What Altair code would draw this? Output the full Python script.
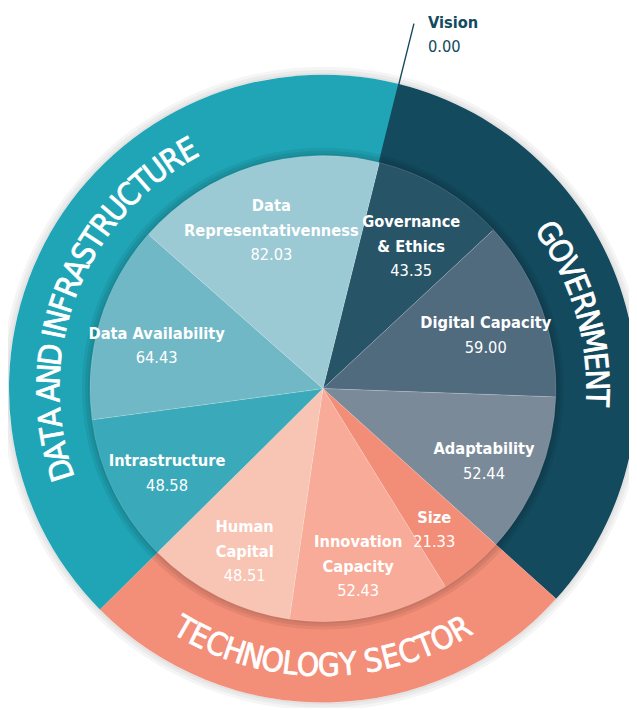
import math
import altair as alt
import pandas as pd

# ---------------- data ----------------
names = ["Vision", "Governance\n& Ethics", "Digital Capacity", "Adaptability", "Size",
         "Innovation\nCapacity", "Human\nCapital", "Intrastructure", "Data Availability",
         "Data\nRepresentativenness"]
values = [0.00, 43.35, 59.00, 52.44, 21.33, 52.43, 48.51, 48.58, 64.43, 82.03]
pillar_of = (["Government"] * 4 + ["Technology Sector"] * 3
             + ["Data and Infrastructure"] * 3)
pillars = ["Government", "Technology Sector", "Data and Infrastructure"]
pillar_titles = ["GOVERNMENT", "TECHNOLOGY SECTOR", "DATA AND INFRASTRUCTURE"]

# ---------------- styles / layout ----------------
slice_colors = ["#134a5e", "#285468", "#506a7e", "#7a8a99", "#f28d77",
                "#f7ab98", "#f8c4b4", "#3aa9b9", "#70b8c6", "#9bc9d4"]
pillar_colors = ["#134a5e", "#f38e78", "#1fa5b5"]
DARK = "#134a5e"
W, H = 629, 700
CX, CY = 319, 381
R_PIE, R_RING = 236, 318
START_DEG = 14.0
NARROW = "'Noto Sans Condensed', 'Liberation Sans Narrow', 'DejaVu Sans Condensed', sans-serif"
RING_FS = 32
LAB_FS = 16.5
LH = 25
LAB_R = 176
LAB_DY = 8
ring_centers = [73.5, 180.0, 291.5]   # label centre angles (deg, clockwise from north)
ring_text_r = [277, 281, 277]
ring_bottom = [False, True, False]

total = sum(values)
off = math.radians(START_DEG)
theta_scale = alt.Scale(domain=[0, total], range=[off, off + 2 * math.pi])
center = dict(x=alt.value(CX), y=alt.value(CY))

pie_df = pd.DataFrame({
    "order": list(range(len(names))),
    "name": names,
    "value": values,
    "pillar": pillar_of,
    "col": slice_colors,
    "nlines": [n.count("\n") + 1 for n in names],
    "value_text": [f"{v:.2f}" for v in values],
})

ring_df = pd.DataFrame({
    "order": list(range(len(pillars))),
    "pillar": pillars,
    "value": [sum(v for v, p in zip(values, pillar_of) if p == q) for q in pillars],
    "col": pillar_colors,
})

# per-character placement of curved ring titles
arial = {'A': 667, 'B': 667, 'C': 722, 'D': 722, 'E': 667, 'F': 611, 'G': 778, 'H': 722,
         'I': 278, 'J': 500, 'K': 667, 'L': 556, 'M': 833, 'N': 722, 'O': 778, 'P': 667,
         'Q': 778, 'R': 722, 'S': 667, 'T': 611, 'U': 722, 'V': 667, 'W': 944, 'X': 667,
         'Y': 667, 'Z': 611, ' ': 278}
rows = []
for title, c, r, bottom in zip(pillar_titles, ring_centers, ring_text_r, ring_bottom):
    ws = [arial.get(ch, 667) * 0.85 * 32 / 1000 for ch in title]
    tot = sum(ws)
    cum = 0.0
    for ch, w in zip(title, ws):
        d = math.degrees((cum + w / 2 - tot / 2) / r)
        cum += w
        if ch == " ":
            continue
        if bottom:
            a = c - d
            rot = (a - 180) % 360
        else:
            a = c + d
            rot = a % 360
        pos = ((a - START_DEG) % 360) / 360 * total
        rows.append({"ch": ch, "pos": pos, "rot": rot, "bottom": bottom})
char_df = pd.DataFrame(rows)

one = pd.DataFrame({"k": [0]})

# ---------------- layers ----------------
outer_shadow = [
    alt.Chart(one).mark_arc(radius=R_RING + 2 + 3 * i, radius2=R_RING, theta=0, theta2=2 * math.pi,
                            color="black", opacity=0.04).encode(**center)
    for i in range(3)
]

ring = alt.Chart(ring_df).mark_arc(radius=R_RING, radius2=R_PIE - 2).encode(
    theta=alt.Theta("value:Q", stack=True, scale=theta_scale),
    order=alt.Order("order:Q", sort="ascending"),
    color=alt.Color("col:N", scale=None),
    **center,
)

inner_shadow = [
    alt.Chart(one).mark_arc(radius=R_PIE + 2 + 3 * i, radius2=R_PIE - 1, theta=0, theta2=2 * math.pi,
                            color="black", opacity=0.06).encode(**center)
    for i in range(3)
]

pie = alt.Chart(pie_df).mark_arc(radius=R_PIE, stroke="white", strokeWidth=0.5,
                                 strokeOpacity=0.3).encode(
    theta=alt.Theta("value:Q", stack=True, scale=theta_scale),
    order=alt.Order("order:Q", sort="ascending"),
    color=alt.Color("col:N", scale=None),
    **center,
)


def with_mid(ch):
    return ch.transform_window(
        cum="sum(value)", sort=[alt.SortField("order")], frame=[None, 0]
    ).transform_calculate(mid="datum.cum - datum.value / 2")


vision_line = with_mid(alt.Chart(pie_df)).transform_filter(alt.datum.name == "Vision").mark_arc(
    radius=381, radius2=R_PIE, stroke=DARK, strokeWidth=1.4, fill=DARK
).encode(
    theta=alt.Theta("mid:Q", stack=False, scale=theta_scale),
    theta2="mid:Q",
    **center,
)

label_layers = []
for k in (1, 2):
    for field, weight, dy in (("name", "bold", LAB_DY - LH * k / 2),
                              ("value_text", "normal", LAB_DY + LH * k / 2)):
        label_layers.append(
            with_mid(alt.Chart(pie_df)).transform_filter(
                (alt.datum.name != "Vision") & (alt.datum.nlines == k)
            ).mark_text(
                radius=LAB_R, align="center", baseline="middle", lineBreak="\n",
                lineHeight=LH, fontSize=LAB_FS, color="white", font=NARROW,
                fontWeight=weight, dy=dy,
            ).encode(
                theta=alt.Theta("mid:Q", stack=False, scale=theta_scale),
                text=f"{field}:N",
                **center,
            )
        )

for field, weight, dy in (("name", "bold", 0), ("value_text", "normal", LH)):
    label_layers.append(
        with_mid(alt.Chart(pie_df)).transform_filter(alt.datum.name == "Vision").mark_text(
            radius=382, dx=14, dy=dy, align="left", baseline="middle",
            fontSize=LAB_FS, color=DARK, font=NARROW, fontWeight=weight,
        ).encode(
            theta=alt.Theta("mid:Q", stack=False, scale=theta_scale),
            text=f"{field}:N",
            **center,
        )
    )

ring_text_layers = []
for bottom, r in [(False, 277), (True, 281)]:
    ring_text_layers.append(
        alt.Chart(char_df[char_df["bottom"] == bottom]).mark_text(
            radius=r, align="center", baseline="middle", fontSize=RING_FS,
            color="white", font=NARROW, fontWeight="normal",
            stroke="white", strokeWidth=0.8,
        ).encode(
            theta=alt.Theta("pos:Q", stack=False, scale=theta_scale),
            angle=alt.Angle("rot:Q", scale=None),
            text="ch:N",
            **center,
        )
    )

chart = alt.layer(
    *outer_shadow, ring, *inner_shadow, pie, vision_line, *label_layers, *ring_text_layers
).properties(
    width=W, height=H, padding=0,
    autosize=alt.AutoSizeParams(type="none"),
).configure_view(stroke=None)

chart.save("out.html", embed_options={"renderer": "svg", "actions": False})
